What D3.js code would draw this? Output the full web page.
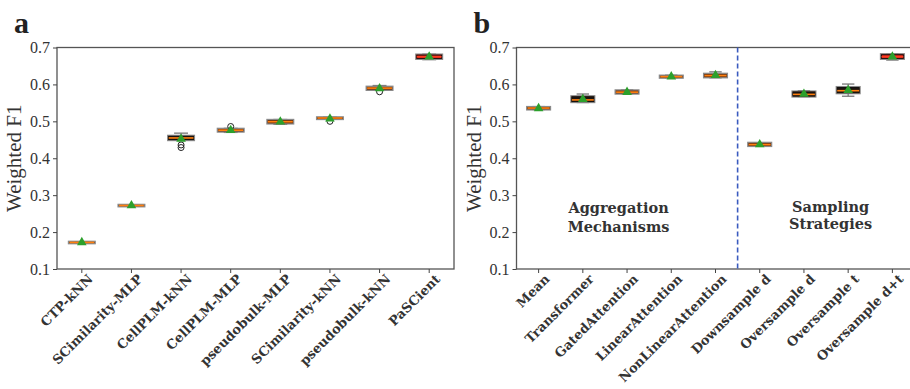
<!DOCTYPE html>
<html>
<head>
<meta charset="utf-8">
<script src="https://cdn.jsdelivr.net/npm/d3@7"></script>
<style>
  html, body { margin: 0; padding: 0; background: #fff; }
  svg text { font-family: "Liberation Serif", "DejaVu Serif", serif; }
  svg text.wide { font-family: "DejaVu Serif", "Liberation Serif", serif; }
</style>
</head>
<body>
<div id="chart"></div>
<script>
// panel a
const catsA = ['CTP-kNN', 'SCimilarity-MLP', 'CellPLM-kNN', 'CellPLM-MLP', 'pseudobulk-MLP', 'SCimilarity-kNN', 'pseudobulk-kNN', 'PaSCient'];
const lowA    = [0.171, 0.271, 0.449, 0.470, 0.492, 0.506, 0.584, 0.667];
const q1A     = [0.171, 0.271, 0.450, 0.473, 0.495, 0.507, 0.586, 0.670];
const medA    = [0.172, 0.272, 0.455, 0.476, 0.499, 0.509, 0.590, 0.675];
const q3A     = [0.173, 0.273, 0.460, 0.479, 0.503, 0.510, 0.593, 0.680];
const highA   = [0.174, 0.273, 0.468, 0.481, 0.505, 0.511, 0.597, 0.682];
const meanA   = [0.172, 0.272, 0.452, 0.476, 0.499, 0.507, 0.589, 0.675];
const fliersA = [[], [], [0.436, 0.429], [0.486], [], [0.500], [0.580], []];

// panel b
const catsB = ['Mean', 'Transformer', 'GatedAttention', 'LinearAttention', 'NonLinearAttention', 'Downsample d', 'Oversample d', 'Oversample t', 'Oversample d+t'];
const lowB  = [0.532, 0.551, 0.575, 0.618, 0.618, 0.433, 0.567, 0.568, 0.666];
const q1B   = [0.533, 0.553, 0.576, 0.619, 0.620, 0.434, 0.568, 0.577, 0.670];
const medB  = [0.536, 0.558, 0.579, 0.621, 0.624, 0.437, 0.573, 0.583, 0.675];
const q3B   = [0.538, 0.567, 0.583, 0.623, 0.628, 0.441, 0.580, 0.592, 0.681];
const highB = [0.540, 0.574, 0.585, 0.625, 0.634, 0.442, 0.583, 0.601, 0.683];
const meanB = [0.535, 0.560, 0.579, 0.621, 0.625, 0.437, 0.574, 0.584, 0.675];
const fliersB = [[], [], [], [], [], [], [], [], []];
const groupsB = [['Aggregation', 'Mechanisms'], ['Sampling', 'Strategies']];

const yTicks = [0.1, 0.2, 0.3, 0.4, 0.5, 0.6, 0.7];
const highlightA = 'PaSCient';
const highlightB = 'Oversample d+t';

const W = 910, H = 389;
const svg = d3.select('#chart').append('svg')
  .attr('width', W).attr('height', H);

function rows(cats, low, q1, med, q3, high, mean, fliers) {
  return cats.map((c, i) => ({ cat: c, low: low[i], q1: q1[i], med: med[i], q3: q3[i], high: high[i], mean: mean[i], fliers: fliers[i] }));
}

function drawPanel(opts) {
  const { data, left, right, top, bottom, letter, highlight } = opts;

  const x = d3.scaleBand().domain(data.map(d => d.cat)).range([left, right]).padding(0);
  const y = d3.scaleLinear().domain([0.1, 0.7]).range([bottom, top]);
  const g = svg.append('g');

  // frame
  g.append('rect')
    .attr('x', left).attr('y', top)
    .attr('width', right - left).attr('height', bottom - top)
    .attr('fill', 'none').attr('stroke', '#555').attr('stroke-width', 1.3);

  // y axis
  const yAxis = g.append('g')
    .attr('transform', `translate(${left},0)`)
    .call(d3.axisLeft(y).tickValues(yTicks).tickSize(4).tickPadding(3).tickFormat(d3.format('.1f')));
  yAxis.select('.domain').remove();
  yAxis.selectAll('line').attr('stroke', '#444');
  yAxis.selectAll('text').attr('fill', '#333').style('font-size', '16px');

  // x axis
  const xAxis = g.append('g')
    .attr('transform', `translate(0,${bottom})`)
    .call(d3.axisBottom(x).tickSize(4).tickPadding(4));
  xAxis.select('.domain').remove();
  xAxis.selectAll('line').attr('stroke', '#444');
  xAxis.selectAll('text')
    .attr('class', 'wide')
    .attr('fill', '#333')
    .style('font-size', '13px')
    .style('font-weight', 'bold')
    .attr('text-anchor', 'end')
    .attr('dy', '0.35em')
    .attr('transform', 'translate(3,2) rotate(-45)');

  // y label
  svg.append('text')
    .attr('transform', `translate(${left - 36},${(top + bottom) / 2}) rotate(-90)`)
    .attr('text-anchor', 'middle')
    .attr('fill', '#333')
    .style('font-size', '21px')
    .text('Weighted F1');

  // panel letter
  svg.append('text')
    .attr('x', left - 43).attr('y', 33)
    .attr('fill', '#222')
    .style('font-size', '30px').style('font-weight', 'bold')
    .text(letter);

  const bw = x.bandwidth() * 0.54;
  const cap = bw * 0.52;
  const boxes = g.selectAll('.box').data(data).enter().append('g')
    .attr('transform', d => `translate(${x(d.cat) + x.bandwidth() / 2},0)`);

  // whiskers
  boxes.append('line')
    .attr('y1', d => y(d.high)).attr('y2', d => y(d.q3))
    .attr('stroke', '#777').attr('stroke-width', 1.3);
  boxes.append('line')
    .attr('y1', d => y(d.low)).attr('y2', d => y(d.q1))
    .attr('stroke', '#777').attr('stroke-width', 1.3);
  boxes.append('line')
    .attr('x1', -cap / 2).attr('x2', cap / 2)
    .attr('y1', d => y(d.high)).attr('y2', d => y(d.high))
    .attr('stroke', '#777').attr('stroke-width', 1.3);
  boxes.append('line')
    .attr('x1', -cap / 2).attr('x2', cap / 2)
    .attr('y1', d => y(d.low)).attr('y2', d => y(d.low))
    .attr('stroke', '#777').attr('stroke-width', 1.3);

  // box
  boxes.append('rect')
    .attr('x', -bw / 2).attr('width', bw)
    .attr('y', d => y(d.q3) - 0.8)
    .attr('height', d => Math.max(y(d.q1) - y(d.q3) + 1.6, 2.5))
    .attr('fill', d => d.cat === highlight ? '#e8281a' : '#6b3414')
    .attr('stroke', '#8a8a8a').attr('stroke-width', 1.2);
  boxes.filter(d => y(d.q1) - y(d.q3) > 3).append('rect')
    .attr('x', -bw / 2 + 1).attr('width', bw - 2)
    .attr('y', d => y(d.q3) + 0.2)
    .attr('height', d => y(d.q1) - y(d.q3) - 0.4)
    .attr('fill', d => d.cat === highlight ? '#e8281a' : '#1c1410')
    .attr('stroke', '#111').attr('stroke-width', 1);

  // median
  boxes.append('line')
    .attr('x1', -bw / 2 + 1).attr('x2', bw / 2 - 1)
    .attr('y1', d => y(d.med)).attr('y2', d => y(d.med))
    .attr('stroke', d => d.cat === highlight ? '#ff3b1f' : '#ff7f0e').attr('stroke-width', 1.6);

  // fliers
  boxes.each(function (d) {
    d3.select(this).selectAll('circle').data(d.fliers).enter().append('circle')
      .attr('cx', 0).attr('cy', v => y(v)).attr('r', 3)
      .attr('fill', 'none').attr('stroke', '#222').attr('stroke-width', 1);
  });

  // mean markers
  boxes.append('path')
    .attr('transform', d => `translate(0,${y(d.mean)})`)
    .attr('d', d3.symbol().type(d3.symbolTriangle).size(40))
    .attr('fill', '#2ca02c');

  return { x, y, g };
}

const pa = drawPanel({
  data: rows(catsA, lowA, q1A, medA, q3A, highA, meanA, fliersA),
  left: 57, right: 454, top: 47.5, bottom: 269, letter: 'a', highlight: highlightA
});

const pb = drawPanel({
  data: rows(catsB, lowB, q1B, medB, q3B, highB, meanB, fliersB),
  left: 516.5, right: 914.5, top: 47.5, bottom: 269, letter: 'b', highlight: highlightB
});

// group divider in panel b
const splitX = pb.x(catsB[5]);
pb.g.append('line')
  .attr('x1', splitX).attr('x2', splitX)
  .attr('y1', pb.y(0.7)).attr('y2', pb.y(0.1))
  .attr('stroke', '#3a5bbf').attr('stroke-width', 1.6)
  .attr('stroke-dasharray', '5,3');

// group labels
const groupCenters = [
  (pb.x(catsB[0]) + splitX) / 2 - 8.5,
  (splitX + pb.x(catsB[8]) + pb.x.bandwidth()) / 2 + 4.5
];
const groupY = [[0.252, 0.2], [0.255, 0.207]];
groupsB.forEach((lines, i) => {
  lines.forEach((t, j) => {
    pb.g.append('text')
      .attr('class', 'wide')
      .attr('x', groupCenters[i])
      .attr('y', pb.y(groupY[i][j]))
      .attr('text-anchor', 'middle')
      .attr('fill', '#333')
      .style('font-size', '14.5px').style('font-weight', 'bold')
      .text(t);
  });
});
</script>
</body>
</html>
